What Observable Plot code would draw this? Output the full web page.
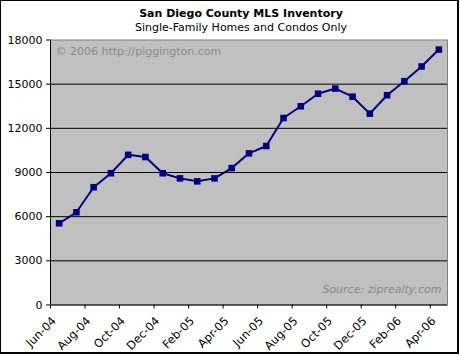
<!DOCTYPE html>
<html>
<head>
<meta charset="utf-8">
<script src="https://cdn.jsdelivr.net/npm/d3@7"></script>
<script src="https://cdn.jsdelivr.net/npm/@observablehq/plot@0.6"></script>
<style>
  html, body { margin: 0; padding: 0; background: white; }
  #frame {
    position: absolute; left: 0; top: 0;
    width: 456px; height: 351px;
    border: 1px solid black; border-right-width: 2px; border-bottom-width: 2px;
    background: white; font-family: "DejaVu Sans", Verdana, sans-serif; color: black;
  }
  #titles { padding-top: 6px; height: 28px; text-align: center; padding-left: 24px; font-size: 11px; line-height: 14px; }
  #titles .t { font-weight: bold; }
</style>
</head>
<body>
<div id="frame">
  <div id="titles">
    <div class="t">San Diego County MLS Inventory</div>
    <div class="s">Single-Family Homes and Condos Only</div>
  </div>
  <div id="chart"></div>
</div>
<script>
const months = ["Jun-04","Jul-04","Aug-04","Sep-04","Oct-04","Nov-04","Dec-04","Jan-05","Feb-05","Mar-05","Apr-05","May-05","Jun-05","Jul-05","Aug-05","Sep-05","Oct-05","Nov-05","Dec-05","Jan-06","Feb-06","Mar-06","Apr-06"];
const inventory = [5550, 6300, 8000, 8950, 10200, 10050, 8950, 8600, 8400, 8600, 9300, 10300, 10800, 12700, 13500, 14350, 14700, 14150, 13000, 14250, 15200, 16200, 17350];
const yTicks = [0, 3000, 6000, 9000, 12000, 15000, 18000];
const gridLines = [3000, 6000, 9000, 12000, 15000];
const copyrightNote = "© 2006 http://piggington.com";
const sourceNote = "Source: ziprealty.com";

const data = months.map((m, i) => ({i, month: m, value: inventory[i]}));
const labelIdx = months.map((m, i) => i).filter(i => i % 2 === 0);
const boundaries = labelIdx.map(i => i - 0.5);
const n = months.length;

const chart = Plot.plot({
  width: 456,
  height: 317,
  marginLeft: 49,
  marginRight: 10,
  marginTop: 4.5,
  marginBottom: 47.5,
  style: {fontFamily: "DejaVu Sans, Verdana, sans-serif", fontSize: "11px", overflow: "visible", background: "transparent", color: "black"},
  x: {type: "linear", domain: [-0.5, n - 0.5], label: null},
  y: {domain: [0, 18000], label: null},
  marks: [
    Plot.frame({fill: "#c0c0c0", stroke: null}),
    Plot.ruleY(gridLines, {stroke: "black", strokeWidth: 1}),
    Plot.frame({stroke: "#808080", strokeWidth: 1}),
    Plot.ruleX([-0.5], {stroke: "black"}),
    Plot.ruleY([0], {stroke: "black"}),
    Plot.axisY({ticks: yTicks, tickSize: 4, tickPadding: 4, tickFormat: d => String(d), stroke: "black", label: null}),
    Plot.axisX({ticks: boundaries, tickSize: 4, tickFormat: () => "", stroke: "black", label: null}),
    Plot.axisX({ticks: labelIdx, tickSize: 0, tickPadding: 14, dx: -5, tickRotate: -45, tickFormat: i => months[i], fill: "black", fontSize: 11.5, label: null}),
    Plot.text([copyrightNote], {frameAnchor: "top-left", dx: 5, dy: 7, fill: "#8a8a8a", fontSize: 11}),
    Plot.text([sourceNote], {frameAnchor: "bottom-right", dx: -6, dy: -12, fill: "#8a8a8a", fontSize: 11, fontStyle: "italic"}),
    Plot.line(data, {x: "i", y: "value", stroke: "#000080", strokeWidth: 2}),
    Plot.dot(data, {x: "i", y: "value", symbol: "square", r: 3.7, fill: "#000080", stroke: null})
  ]
});
document.getElementById("chart").appendChild(chart);
</script>
</body>
</html>
